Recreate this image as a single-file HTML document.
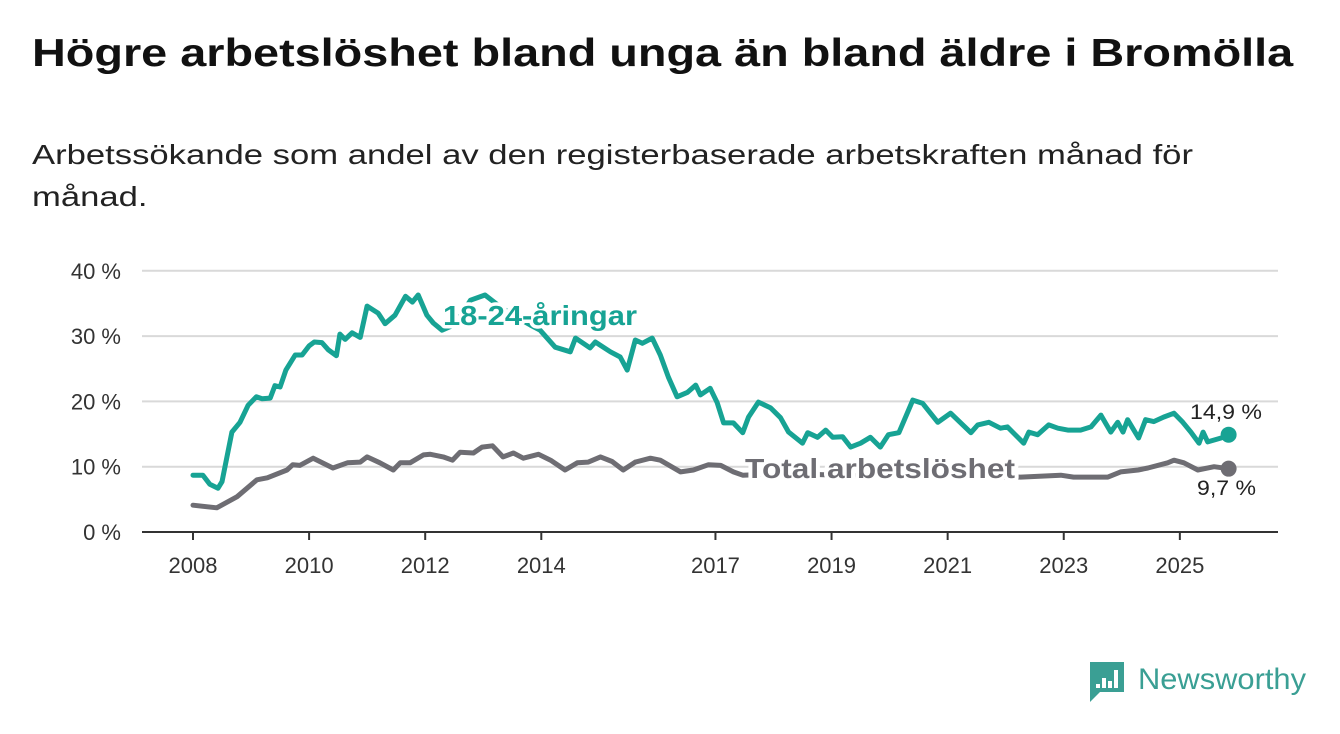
<!DOCTYPE html>
<html><head><meta charset="utf-8"><style>
body{margin:0;background:#fff;width:1340px;height:734px;overflow:hidden;font-family:"Liberation Sans",sans-serif;}
h1{position:absolute;left:32px;top:32px;margin:0;font-size:39px;font-weight:bold;color:#111;white-space:nowrap;transform:scaleX(1.2);transform-origin:left top}
.sub{position:absolute;left:32px;top:134px;margin:0;font-size:28px;color:#222;line-height:42px;white-space:nowrap;transform:scaleX(1.237);transform-origin:left top}
svg{position:absolute;left:0;top:0}
</style></head><body>
<h1>Högre arbetslöshet bland unga än bland äldre i Bromölla</h1>
<p class="sub">Arbetssökande som andel av den registerbaserade arbetskraften månad för<br>månad.</p>
<svg id="chart" width="1340" height="734"></svg>
<script>
const yTicks=[0,10,20,30,40];
const xTicks=[2008,2010,2012,2014,2017,2019,2021,2023,2025];
const youthYears=[2008.00,2008.17,2008.29,2008.43,2008.50,2008.67,2008.81,2008.95,2009.09,2009.19,2009.33,2009.41,2009.50,2009.60,2009.76,2009.88,2010.00,2010.09,2010.22,2010.33,2010.47,2010.53,2010.62,2010.74,2010.88,2011.00,2011.19,2011.31,2011.48,2011.66,2011.78,2011.88,2012.03,2012.14,2012.29,2012.52,2012.78,2013.03,2013.29,2013.55,2013.81,2013.98,2014.24,2014.50,2014.59,2014.84,2014.93,2015.19,2015.36,2015.48,2015.62,2015.74,2015.91,2016.05,2016.19,2016.34,2016.52,2016.66,2016.74,2016.91,2017.03,2017.14,2017.31,2017.47,2017.57,2017.74,2017.95,2018.12,2018.26,2018.50,2018.59,2018.76,2018.90,2019.02,2019.19,2019.33,2019.50,2019.67,2019.84,2019.98,2020.16,2020.40,2020.57,2020.83,2021.05,2021.40,2021.52,2021.71,2021.91,2022.03,2022.31,2022.40,2022.55,2022.74,2022.90,2023.07,2023.29,2023.47,2023.64,2023.81,2023.93,2024.02,2024.10,2024.29,2024.41,2024.55,2024.72,2024.90,2025.05,2025.19,2025.33,2025.40,2025.48,2025.71,2025.84];
const youthValues=[8.7,8.7,7.3,6.7,7.7,15.3,16.8,19.4,20.7,20.4,20.5,22.4,22.2,24.8,27.1,27.1,28.5,29.1,29.0,27.9,27.0,30.3,29.5,30.5,29.8,34.6,33.5,31.9,33.2,36.1,35.2,36.3,33.2,32.0,30.9,31.8,35.5,36.3,34.5,33.0,31.7,30.9,28.3,27.6,29.7,28.2,29.1,27.6,26.8,24.8,29.4,28.9,29.7,27.1,23.7,20.7,21.4,22.5,21.0,22.0,19.8,16.7,16.7,15.2,17.6,19.9,19.0,17.5,15.3,13.6,15.2,14.5,15.6,14.5,14.6,13.0,13.6,14.5,13.0,14.9,15.2,20.2,19.7,16.8,18.2,15.2,16.4,16.8,15.9,16.1,13.6,15.3,14.9,16.4,15.9,15.6,15.6,16.1,17.9,15.3,16.8,15.3,17.2,14.4,17.2,16.9,17.6,18.2,16.8,15.3,13.6,15.3,13.8,14.4,14.9];
const totalYears=[2008.00,2008.41,2008.76,2009.10,2009.28,2009.62,2009.72,2009.84,2010.07,2010.41,2010.66,2010.88,2011.00,2011.22,2011.45,2011.57,2011.74,2011.97,2012.09,2012.31,2012.47,2012.60,2012.83,2012.98,2013.16,2013.34,2013.52,2013.69,2013.95,2014.16,2014.41,2014.62,2014.81,2015.02,2015.22,2015.41,2015.62,2015.88,2016.05,2016.40,2016.62,2016.88,2017.09,2017.31,2017.47,2017.78,2018.47,2019.33,2020.19,2021.05,2021.74,2022.26,2022.95,2023.17,2023.76,2023.98,2024.28,2024.45,2024.79,2024.90,2025.07,2025.31,2025.59,2025.84];
const totalValues=[4.1,3.7,5.4,8.0,8.3,9.5,10.3,10.2,11.3,9.8,10.6,10.7,11.5,10.6,9.5,10.6,10.6,11.8,11.9,11.5,11.0,12.2,12.1,13.0,13.2,11.5,12.1,11.3,11.9,11.0,9.5,10.6,10.7,11.5,10.8,9.5,10.7,11.3,11.0,9.2,9.5,10.3,10.2,9.2,8.7,8.8,8.9,8.6,8.8,8.9,8.5,8.4,8.7,8.4,8.4,9.2,9.5,9.8,10.6,11.0,10.6,9.5,10.0,9.7];

const svg=document.getElementById('chart');
const NS='http://www.w3.org/2000/svg';
const X0=142,X1=1278,Y0=532;
const xs=v=>193+(v-2008)*58.05;
const ys=v=>Y0-v*6.53;
function mk(tag,attrs,parent){const e=document.createElementNS(NS,tag);for(const k in attrs)e.setAttribute(k,attrs[k]);(parent||svg).appendChild(e);return e;}

yTicks.forEach(t=>{
  if(t>0){const g=mk('line',{x1:X0,x2:X1,y1:ys(t),y2:ys(t),stroke:'#d9d9d9','stroke-width':2});
  
  }
  const tx=mk('text',{x:121,y:ys(t)+8,'text-anchor':'end','font-size':22,fill:'#333','font-family':'Liberation Sans, sans-serif'});
  tx.textContent=t+' %';
  
  
});
const ax=mk('line',{x1:X0,x2:X1,y1:Y0,y2:Y0,stroke:'#333','stroke-width':2});


xTicks.forEach(t=>{
  const tk=mk('line',{x1:xs(t),x2:xs(t),y1:Y0,y2:Y0+8,stroke:'#333','stroke-width':2});
  
  
  const tx=mk('text',{x:xs(t),y:573,'text-anchor':'middle','font-size':22,fill:'#333','font-family':'Liberation Sans, sans-serif'});
  tx.textContent=t;
  
  
});
function line(yrs,vals,color,name){
  const d=yrs.map((y,i)=>(i?'L':'M')+xs(y).toFixed(1)+','+ys(vals[i]).toFixed(1)).join('');
  const p=mk('path',{d:d,fill:'none',stroke:color,'stroke-width':5,'stroke-linejoin':'round','stroke-linecap':'round'});
  
  
  const n=yrs.length-1;
  const c=mk('circle',{cx:xs(yrs[n]),cy:ys(vals[n]),r:8,fill:color});
  
  
}
line(totalYears,totalValues,'#6e6d73','total-line');
line(youthYears,youthValues,'#17a394','youth-line');
function lbl(x,y,txt,color,size,bold,name,len){
  const a={x:x,y:y,'font-size':size,fill:color,'font-weight':bold?'bold':'normal','font-family':'Liberation Sans, sans-serif',stroke:'#fff','stroke-width':bold?7:5,'paint-order':'stroke','stroke-linejoin':'round'};
  if(len){a.textLength=len;a.lengthAdjust='spacingAndGlyphs';}
  const t=mk('text',a);
  t.textContent=txt;
  
  
}
lbl(443,325,'18-24-åringar','#17a394',28,true,'youth-series-label',194);
lbl(745,478,'Total arbetslöshet','#6e6d73',28,true,'total-series-label',270);
const n1=youthValues.length-1,n2=totalValues.length-1;
lbl(1190,419,youthValues[n1].toFixed(1).replace('.',',')+' %','#222',21,false,'youth-end-value',72);
lbl(1197,495,totalValues[n2].toFixed(1).replace('.',',')+' %','#222',21,false,'total-end-value',59);

// logo
const lg=mk('g',{});


mk('path',{d:'M1090,662 h34 v30 h-24 l-10,10 z',fill:'#3a9f94'},lg);
[[1096,684,4],[1102,678,10],[1108,681,7],[1114,670,18]].forEach(b=>mk('rect',{x:b[0],y:b[1],width:4,height:b[2],fill:'#fff'},lg));
const lt=mk('text',{x:1138,y:689,'font-size':30,fill:'#3a9f94','font-family':'Liberation Sans, sans-serif',textLength:168,lengthAdjust:'spacingAndGlyphs'},lg);
lt.textContent='Newsworthy';
</script>
</body></html>
